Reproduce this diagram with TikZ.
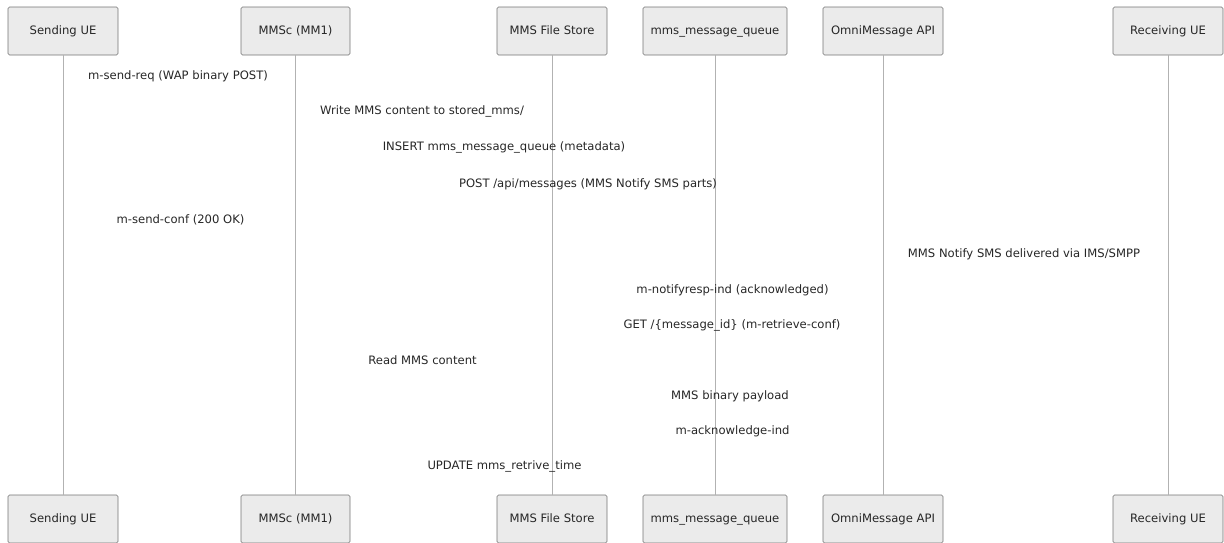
\documentclass[tikz,border=0pt]{standalone}
\usepackage{fontspec}
\setmainfont{DejaVu Sans}
\begin{document}
\begin{tikzpicture}[x=1pt,y=-1pt,
  actor/.style={draw=black!55, fill=black!8, rounded corners=1.5pt, line width=0.6pt,
    minimum height=48pt, inner sep=0pt, text height=8.6pt, text depth=2.4pt,
    font=\fontsize{11.6}{13}\selectfont, text=black!85},
  life/.style={draw=black!30, line width=0.8pt},
  msg/.style={font=\fontsize{11.6}{13}\selectfont, text=black!85, inner sep=0pt,
    text height=8.6pt, text depth=2.4pt, anchor=center}]
\useasboundingbox (0,0) rectangle (1224,542);
% participants, top row
\node[actor, minimum width=110pt] (ueS) at (63,31) {Sending UE};
\node[actor, minimum width=109pt] (mmsc) at (295.5,31) {MMSc (MM1)};
\node[actor, minimum width=110pt] (fs) at (552,31) {MMS File Store};
\node[actor, minimum width=144pt] (mq) at (715,31) {mms\_message\_queue};
\node[actor, minimum width=120pt] (api) at (883,31) {OmniMessage API};
\node[actor, minimum width=110pt] (ueR) at (1168,31) {Receiving UE};
% participants, bottom row
\node[actor, minimum width=110pt] (ueSb) at (63,519) {Sending UE};
\node[actor, minimum width=109pt] (mmscb) at (295.5,519) {MMSc (MM1)};
\node[actor, minimum width=110pt] (fsb) at (552,519) {MMS File Store};
\node[actor, minimum width=144pt] (mqb) at (715,519) {mms\_message\_queue};
\node[actor, minimum width=120pt] (apib) at (883,519) {OmniMessage API};
\node[actor, minimum width=110pt] (ueRb) at (1168,519) {Receiving UE};
% lifelines
\draw[life] (ueS.south) -- (ueSb.north);
\draw[life] (mmsc.south) -- (mmscb.north);
\draw[life] (fs.south) -- (fsb.north);
\draw[life] (mq.south) -- (mqb.north);
\draw[life] (api.south) -- (apib.north);
\draw[life] (ueR.south) -- (ueRb.north);
% message labels
\node[msg] (m1) at (178,76) {m-send-req (WAP binary POST)};
\node[msg] (m2) at (422,111) {Write MMS content to stored\_mms/};
\node[msg] (m3) at (504,147) {INSERT mms\_message\_queue (metadata)};
\node[msg] (m4) at (588,184) {POST /api/messages (MMS Notify SMS parts)};
\node[msg] (m5) at (180.5,220) {m-send-conf (200 OK)};
\node[msg] (m6) at (1024,254) {MMS Notify SMS delivered via IMS/SMPP};
\node[msg] (m7) at (732.5,290) {m-notifyresp-ind (acknowledged)};
\node[msg] (m8) at (732,325) {GET /\{message\_id\} (m-retrieve-conf)};
\node[msg] (m9) at (422.5,361) {Read MMS content};
\node[msg] (m10) at (730,396) {MMS binary payload};
\node[msg] (m11) at (732.5,431) {m-acknowledge-ind};
\node[msg] (m12) at (504.5,466) {UPDATE mms\_retrive\_time};
\end{tikzpicture}
\end{document}
